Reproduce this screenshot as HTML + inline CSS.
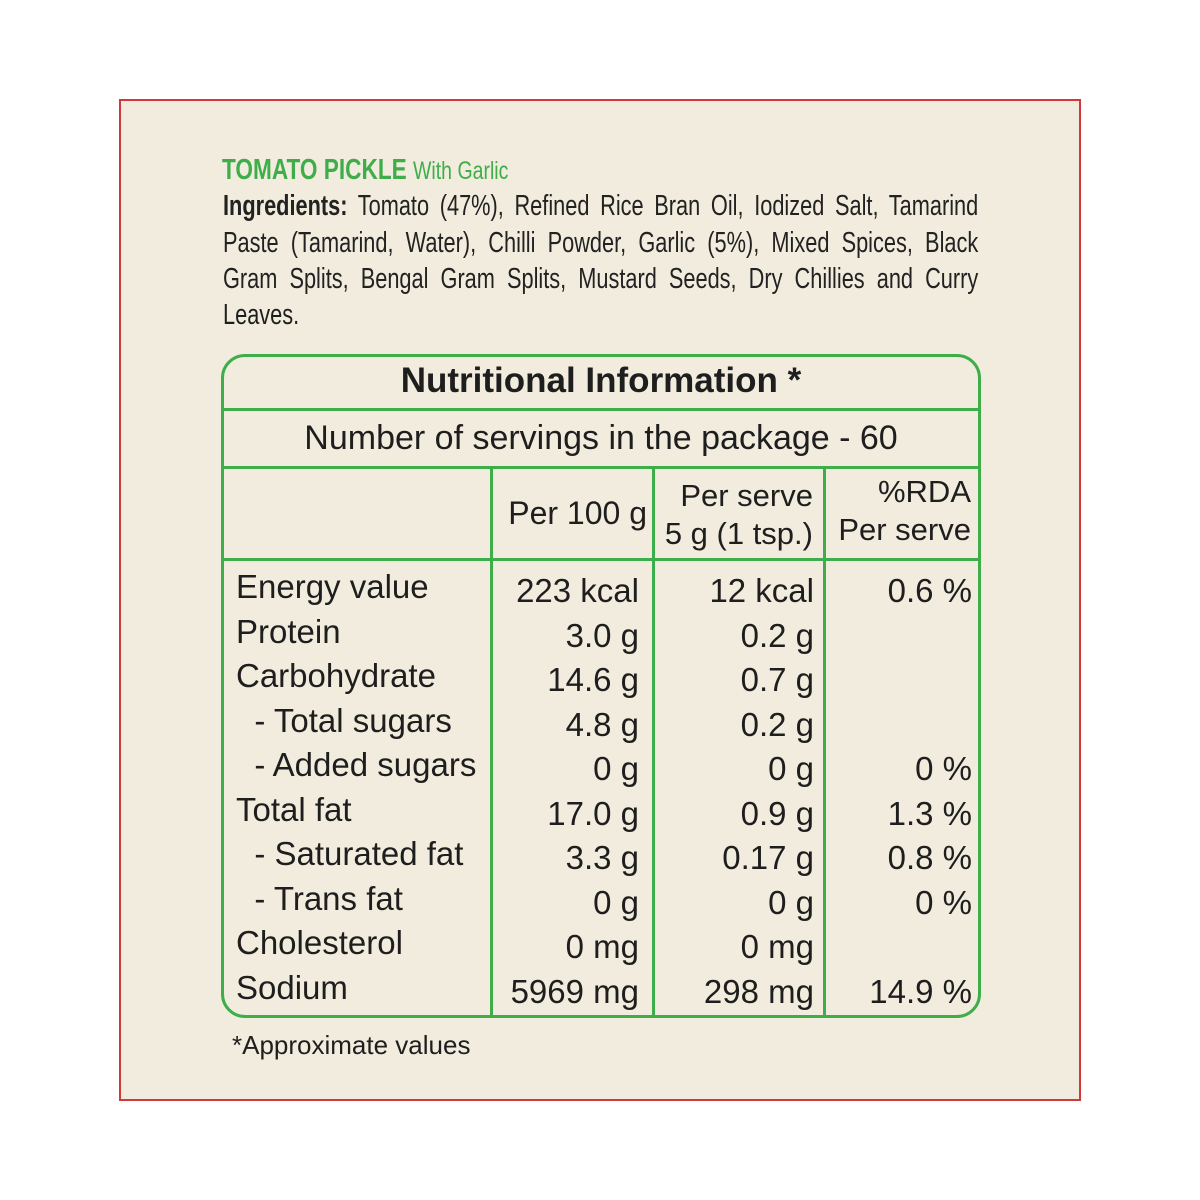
<!DOCTYPE html>
<html><head><style>
body{margin:0;width:1200px;height:1200px;background:#fff;position:relative;font-family:"Liberation Sans",sans-serif;color:#1e1e1e}
.frame{position:absolute;left:119px;top:99px;width:958px;height:998px;border:2px solid #d03a3a;background:#f1ecdd}
.a{position:absolute;white-space:nowrap}
.ln{position:absolute;left:223px;width:1007px;font-size:29px;line-height:36px;text-align:justify;text-align-last:justify;white-space:nowrap;color:#222;transform:scaleX(0.75);transform-origin:left top}
.tbl{position:absolute;left:221px;top:354px;width:754px;height:658px;border:3px solid #3dae49;border-radius:24px}
.h{position:absolute;height:3px;background:#3dae49;left:221px;width:760px}
.v{position:absolute;width:3px;background:#3dae49;top:468px;height:549px}
.c{position:absolute;font-size:33px;line-height:44.5px;white-space:pre;transform-origin:left top}
.r{text-align:right}
</style></head><body>
<div class="frame"></div>
<div class="a" style="left:222px;top:154px;font-size:29px;color:#3fae4a;transform:scaleX(0.78);transform-origin:left top"><b>TOMATO PICKLE</b> <span style="font-size:25px">With Garlic</span></div>
<div class="ln" style="top:188px"><b>Ingredients:</b> Tomato (47%), Refined Rice Bran Oil, Iodized Salt, Tamarind</div>
<div class="ln" style="top:225px">Paste (Tamarind, Water), Chilli Powder, Garlic (5%), Mixed Spices, Black</div>
<div class="ln" style="top:261px">Gram Splits, Bengal Gram Splits, Mustard Seeds, Dry Chillies and Curry</div>
<div class="a" style="left:223px;top:297px;font-size:29px;line-height:36px;transform:scaleX(0.75);transform-origin:left top">Leaves.</div>
<div class="tbl"></div>
<div class="h" style="top:408px"></div>
<div class="h" style="top:466px"></div>
<div class="h" style="top:558px"></div>
<div class="v" style="left:490px"></div>
<div class="v" style="left:652px"></div>
<div class="v" style="left:823px"></div>
<div class="a" style="left:221px;width:760px;text-align:center;top:361px;font-size:35px;font-weight:bold">Nutritional Information *</div>
<div class="a" style="left:221px;width:760px;text-align:center;top:419px;font-size:34px">Number of servings in the package - 60</div>
<div class="c r" style="left:493px;width:154px;top:491px;font-size:32px">Per 100 g</div>
<div class="c r" style="left:656px;width:157px;top:477px;font-size:31px;line-height:38px">Per serve
5 g (1 tsp.)</div>
<div class="c r" style="left:826px;width:145px;top:473px;font-size:31px;line-height:38px">%RDA
Per serve</div>
<div class="c" style="left:236px;top:565px">Energy value
Protein
Carbohydrate
  - Total sugars
  - Added sugars
Total fat
  - Saturated fat
  - Trans fat
Cholesterol
Sodium</div>
<div class="c r" style="left:493px;width:146px;top:569px">223 kcal
3.0 g
14.6 g
4.8 g
0 g
17.0 g
3.3 g
0 g
0 mg
5969 mg</div>
<div class="c r" style="left:656px;width:158px;top:569px">12 kcal
0.2 g
0.7 g
0.2 g
0 g
0.9 g
0.17 g
0 g
0 mg
298 mg</div>
<div class="c r" style="left:826px;width:146px;top:569px">0.6 %


 
0 %
1.3 %
0.8 %
0 %

14.9 %</div>
<div class="a" style="left:232px;top:1030px;font-size:26px">*Approximate values</div>
</body></html>
